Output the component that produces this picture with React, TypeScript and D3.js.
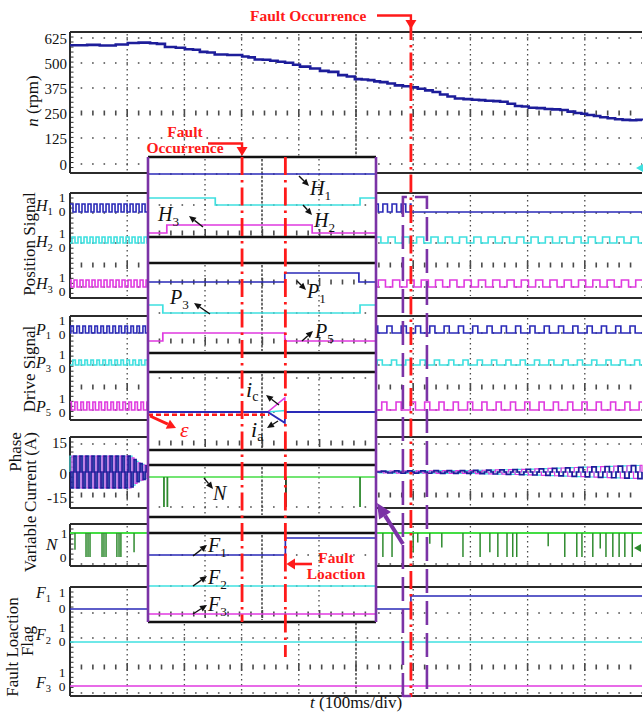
import React from "react";
import * as d3 from "d3";

// ---------------- data ----------------
// speed n (rpm) vs time (ms), main time base 0..1000 ms (100 ms/div)
const SPEED_T = [0, 30, 52, 80, 101, 120, 140, 152, 166, 185, 201, 215, 227, 240, 253, 275, 301, 312, 323, 337, 350, 363, 376, 390, 402, 420, 437, 452, 469, 484, 498, 510, 521, 532, 542, 555, 568, 582, 596, 608, 621, 634, 647, 660, 673, 688, 703, 715, 726, 740, 752, 765, 778, 790, 802, 816, 830, 843, 857, 870, 883, 894, 904, 916, 927, 940, 953, 966, 979, 990, 1000];
const SPEED_N = [589, 591, 588, 593, 600, 602, 599, 596, 580, 577, 569, 567, 556, 553, 543, 541, 533, 529, 518, 517, 512, 507, 502, 492, 483, 474, 462, 457, 441, 434, 421, 419, 416, 410, 406, 399, 390, 386, 380, 373, 365, 357, 345, 335, 325, 322, 319, 317, 314, 312, 309, 299, 288, 285, 279, 277, 273, 271, 268, 260, 253, 249, 243, 238, 232, 227, 222, 219, 217, 219, 216];
const N_TICKS = [625, 500, 375, 250, 125, 0];
const CURRENT_TICKS = [15, 0, -15];

const FAULT_T = 596; // fault occurrence, main time base
const BOX_T = [582, 624]; // purple dashed box
const INSET_OCC_T = 16.5; // inset time base 0..40 ms
const INSET_LOC_T = 24.1;

type Seg = { from: number; to: number; period: number; duty: number; phase: number };
const H1_WAVE: Seg[] = [
  { from: 0, to: 300, period: 10.5, duty: 0.5, phase: 0 },
  { from: 300, to: 596, period: 16, duty: 0.5, phase: 3 },
];
const H1_TAIL: [number, number][] = [[596, 0], [1000, 0]];
const H2_WAVE: Seg[] = [
  { from: 0, to: 300, period: 10.5, duty: 0.5, phase: 3.5 },
  { from: 300, to: 1000, period: 25, duty: 0.5, phase: 6 },
];
const H3_WAVE: Seg[] = [
  { from: 0, to: 300, period: 10.5, duty: 0.5, phase: 7 },
  { from: 300, to: 1000, period: 25, duty: 0.5, phase: 14 },
];
const P1_WAVE: Seg[] = [
  { from: 0, to: 300, period: 10.5, duty: 0.42, phase: 1.5 },
  { from: 300, to: 1000, period: 25, duty: 0.36, phase: 4 },
];
const P3_WAVE: Seg[] = [
  { from: 0, to: 300, period: 10.5, duty: 0.42, phase: 5 },
  { from: 300, to: 1000, period: 25, duty: 0.36, phase: 12 },
];
const P5_WAVE: Seg[] = [
  { from: 0, to: 300, period: 10.5, duty: 0.42, phase: 8.5 },
  { from: 300, to: 1000, period: 25, duty: 0.36, phase: 20 },
];
const F1_MAIN: [number, number][] = [[0, 0], [596, 1], [1000, 1]];
const F2_MAIN: [number, number][] = [[0, 0], [1000, 0]];
const F3_MAIN: [number, number][] = [[0, 0], [1000, 0]];

// phase currents (six-step), amplitude envelope
const CUR_LEFT = { from: 0, to: 136, period: 10.5 };
const CUR_RIGHT = { from: 535, to: 1000, period: 23 };
const CUR_ENV_T = [0, 105, 118, 136, 535, 700, 800, 900, 1000];
const CUR_ENV_A = [8.5, 8.5, 5, 3, 0.5, 0.8, 1.5, 2.6, 3.6];

// variable N dips (time, lowest value)
const N_DIP_T = [8.7, 28, 31.5, 35, 56, 59.4, 63, 82, 85.7, 89, 112,
  547, 563, 600, 608, 629, 650, 687, 717, 734, 748, 764, 774, 781, 836, 865, 886, 895, 914, 927, 937, 949, 960, 970, 983];
const N_DIP_V = [0.3, 0, 0, 0, 0, 0, 0, 0, 0, 0, 0.2,
  0, 0, 0.2, 0.6, 0.55, 0.4, 0, 0, 0.2, 0, 0, 0, 0, 0.45, 0, 0, 0, 0, 0.35, 0, 0, 0, 0, 0];

// zoomed inset (0..40 ms)
const IN_H1: [number, number][] = [[0, 0], [40, 0]];
const IN_H2: [number, number][] = [[0, 1], [11.8, 0], [37.2, 1], [40, 1]];
const IN_H3: [number, number][] = [[0, 0], [3.3, 1], [28.8, 0], [40, 0]];
const IN_P1: [number, number][] = [[0, 0], [24.0, 1], [37.0, 0], [40, 0]];
const IN_P3: [number, number][] = [[0, 1], [2.6, 0], [37.2, 1], [40, 1]];
const IN_P5: [number, number][] = [[0, 0], [2.6, 1], [24.0, 0], [40, 0]];
const IN_F1: [number, number][] = [[0, 0], [24.1, 1], [40, 1]];
const IN_F2: [number, number][] = [[0, 0], [40, 0]];
const IN_F3: [number, number][] = [[0, 0], [40, 0]];
const IN_IC: [number, number][] = [[0, 0], [21, 0], [24, 7.5], [24.05, 0], [40, 0]];
const IN_IA: [number, number][] = [[0, 0], [21, 0], [24, -5.8], [24.05, 0], [40, 0]];
const IN_IB: [number, number][] = [[0, 0], [21, 0], [24, 0.8], [24.05, 0], [40, 0]];
const IN_EPS: [number, number][] = [[0, -1.5], [21.3, -1.5]];
const IN_N_DIP_T = [2.8, 3.4, 24.2, 37.2];

// ---------------- style / layout ----------------
const BLUE = "#2a2ab8";
const NAVY = "#1d1d9a";
const CYAN = "#3fe0e0";
const MAGENTA = "#e03ae0";
const GREEN = "#44dd44";
const DKGREEN = "#2f8a2f";
const RED = "#ff1a1a";
const PURPLE = "#7b33a6";
const FRAME = "#2b2b2b";
const GRID = "#4a4a4a";
const SERIF = "Liberation Serif, DejaVu Serif, serif";

const X0 = 70, X1 = 642;
const xMain = d3.scaleLinear().domain([0, 1000]).range([X0, X1]);
const xIn = d3.scaleLinear().domain([0, 40]).range([148, 376]);
const STEP = (X1 - X0) / 50;

const PANELS = [
  { top: 32, bottom: 173, dots: [38, 63, 88, 138, 164], ticks: [113] },
  { top: 193, bottom: 298, dots: [213, 243, 287], ticks: [265] },
  { top: 316, bottom: 420, dots: [333, 365, 410], ticks: [387] },
  { top: 437, bottom: 508, dots: [444, 472], ticks: [495] },
  { top: 524, bottom: 566, dots: [564], ticks: [] as number[] },
  { top: 587, bottom: 696, dots: [613, 638, 693], ticks: [667] },
];
const IN_PANELS = [
  { top: 157, bottom: 237, dots: [174, 205], ticks: [233] },
  { top: 263, bottom: 353, dots: [313], ticks: [282, 341] },
  { top: 372, bottom: 450, dots: [378, 412], ticks: [443] },
  { top: 465, bottom: 517, dots: [507], ticks: [] as number[] },
  { top: 533, bottom: 622, dots: [555, 586], ticks: [614] },
];

function squarePoints(segs: Seg[]): [number, number][] {
  const pts: [number, number][] = [];
  for (const s of segs) {
    const lvl = (t: number) => {
      const r = (((t - s.phase) % s.period) + s.period) % s.period;
      return r < s.duty * s.period ? 1 : 0;
    };
    pts.push([s.from, lvl(s.from)]);
    const k0 = Math.floor((s.from - s.phase) / s.period);
    for (let k = k0; ; k++) {
      const rise = s.phase + k * s.period;
      if (rise >= s.to) break;
      const fall = rise + s.duty * s.period;
      if (rise > s.from) pts.push([rise, 1]);
      if (fall > s.from && fall < s.to) pts.push([fall, 0]);
    }
    pts.push([s.to, lvl(s.to - 1e-6)]);
  }
  return pts;
}

function sixStep(from: number, to: number, period: number, phase: number): [number, number][] {
  const amp = d3.scaleLinear().domain(CUR_ENV_T).range(CUR_ENV_A).clamp(true);
  const fr = [0, 1 / 3, 1 / 2, 5 / 6];
  const lv = [1, 0, -1, 0];
  const pts: [number, number][] = [[from, 0]];
  for (let k = Math.floor((from - phase) / period); ; k++) {
    const base = phase + k * period;
    if (base >= to) break;
    for (let i = 0; i < 4; i++) {
      const t = base + fr[i] * period;
      if (t >= from && t < to) pts.push([t, lv[i] * amp(t)]);
    }
  }
  pts.push([to, 0]);
  return pts;
}

function arrow(x1: number, y1: number, x2: number, y2: number, len: number, hw: number) {
  const dx = x2 - x1, dy = y2 - y1, L = Math.hypot(dx, dy);
  const ux = dx / L, uy = dy / L;
  const bx = x2 - ux * len, by = y2 - uy * len;
  const px = -uy, py = ux;
  return {
    line: `M${x1},${y1}L${bx},${by}`,
    head: `M${x2},${y2}L${bx + px * hw},${by + py * hw}L${bx - px * hw},${by - py * hw}Z`,
  };
}

function rowTicksPath(x0: number, x1: number, y: number) {
  let d = "";
  for (let k = 1; x0 + k * STEP < x1 - 1; k++) {
    const x = x0 + k * STEP;
    const h = k % 5 === 0 ? 4 : 2.5;
    d += `M${x},${y - h}V${y + h}`;
  }
  return d;
}

function Grid({ x0, x1, top, bottom, dots, ticks, divs }: any) {
  const els: any[] = [];
  dots.forEach((y: number, i: number) =>
    els.push(<line key={"d" + i} x1={x0} x2={x1} y1={y} y2={y} stroke={GRID} strokeWidth={1.6} strokeDasharray={`1.6 ${STEP - 1.6}`} strokeDashoffset={0.8} />)
  );
  ticks.forEach((y: number, i: number) =>
    els.push(<path key={"t" + i} d={rowTicksPath(x0, x1, y)} stroke={GRID} strokeWidth={1.6} />)
  );
  divs.forEach((x: number, i: number) => {
    const center = i === Math.floor(divs.length / 2);
    els.push(<line key={"v" + i} x1={x} x2={x} y1={top + 2} y2={bottom - 2} stroke={GRID}
      strokeWidth={center ? 1.6 : 1.3} strokeDasharray={center ? "2.6 1.6" : "1.4 3.6"} />);
  });
  return <g>{els}</g>;
}

function ChanLabel({ letter, sub, x, y, size, color = "#111" }: any) {
  return (
    <text x={x} y={y} fontSize={size} fill={color} style={{ fontFamily: SERIF }}>
      <tspan fontStyle="italic">{letter}</tspan>
      <tspan fontSize={size * 0.66} dy={size * 0.25}>{sub}</tspan>
    </text>
  );
}

export default function App() {
  const stepLine = (xs: any, ys: any) =>
    d3.line<[number, number]>().x(d => xs(d[0])).y(d => ys(d[1])).curve(d3.curveStepAfter);
  const linLine = (xs: any, ys: any) =>
    d3.line<[number, number]>().x(d => xs(d[0])).y(d => ys(d[1]));
  const dig = (y0: number, y1: number) => d3.scaleLinear().domain([0, 1]).range([y0, y1]);

  const yN = d3.scaleLinear().domain([0, 625]).range([164, 38]);
  const speedPts = SPEED_T.map((t, i) => [t, SPEED_N[i]] as [number, number]);
  const yCur = d3.scaleLinear().domain([-15, 15]).range([500, 444]);
  const yCurIn = d3.scaleLinear().domain([-15, 15]).range([440, 384]);

  const mainDivs = d3.range(1, 10).map(k => xMain(k * 100));
  const inDivs = [10, 20, 30].map(t => xIn(t));

  const mainDigital = [
    { pts: squarePoints(H1_WAVE).concat(H1_TAIL), y: dig(212, 204), c: BLUE },
    { pts: squarePoints(H2_WAVE), y: dig(243, 237), c: CYAN },
    { pts: squarePoints(H3_WAVE), y: dig(287, 280), c: MAGENTA },
    { pts: squarePoints(P1_WAVE), y: dig(333, 326), c: BLUE },
    { pts: squarePoints(P3_WAVE), y: dig(365, 360), c: CYAN },
    { pts: squarePoints(P5_WAVE), y: dig(410, 402), c: MAGENTA },
    { pts: F1_MAIN, y: dig(609, 596), c: BLUE },
    { pts: F2_MAIN, y: dig(642, 634), c: CYAN },
    { pts: F3_MAIN, y: dig(686, 678), c: MAGENTA },
  ];
  const yNvar = dig(557, 533);

  const curColors = [CYAN, MAGENTA, NAVY];
  const curPaths: any[] = [];
  [CUR_LEFT, CUR_RIGHT].forEach((seg, si) => {
    [0, 1, 2].forEach(ph => {
      const pts = sixStep(seg.from, seg.to, seg.period, (ph * seg.period) / 3);
      curPaths.push(
        <path key={`c${si}${ph}`} d={stepLine(xMain, yCur)(pts) || ""} fill="none" stroke={curColors[ph]} strokeWidth={ph === 2 ? 1.7 : 1.2} />
      );
    });
  });

  const inDigital = [
    { pts: IN_H1, y: dig(174, 166), c: BLUE },
    { pts: IN_H2, y: dig(205, 198), c: CYAN },
    { pts: IN_H3, y: dig(233, 225), c: MAGENTA },
    { pts: IN_P1, y: dig(282, 273), c: BLUE },
    { pts: IN_P3, y: dig(313, 305), c: CYAN },
    { pts: IN_P5, y: dig(341, 333), c: MAGENTA },
    { pts: IN_F1, y: dig(555, 538), c: BLUE },
    { pts: IN_F2, y: dig(586, 578), c: CYAN },
    { pts: IN_F3, y: dig(614, 606), c: MAGENTA },
  ];
  const yNin = dig(507, 477);

  const labelArrows = [
    [299, 176, 309, 186], [303, 205, 312, 215], [203, 227, 189, 216],
    [297, 281, 306, 290], [210, 314, 194, 303], [302, 341, 313, 331],
    [279, 405, 266, 395], [278, 421, 267, 428], [204, 478, 213, 489],
    [193, 556, 207, 545], [193, 586, 207, 576], [193, 614, 207, 605],
  ].map(a => arrow(a[0], a[1], a[2], a[3], 7, 3.2));

  const insetLabels = [
    { l: "H", s: "1", x: 310, y: 195 }, { l: "H", s: "2", x: 314, y: 227 }, { l: "H", s: "3", x: 158, y: 221 },
    { l: "P", s: "1", x: 307, y: 298 }, { l: "P", s: "3", x: 170, y: 304 }, { l: "P", s: "5", x: 315, y: 338 },
    { l: "N", s: "", x: 213, y: 500 },
    { l: "F", s: "1", x: 208, y: 552 }, { l: "F", s: "2", x: 208, y: 584 }, { l: "F", s: "3", x: 208, y: 611 },
  ];

  const mainLabels = [
    { l: "H", s: "1", y: 211, y1: 202, y0: 216 },
    { l: "H", s: "2", y: 247, y1: 238, y0: 252 },
    { l: "H", s: "3", y: 289, y1: 282, y0: 296 },
    { l: "P", s: "1", y: 335, y1: 325, y0: 339 },
    { l: "P", s: "3", y: 368, y1: 359, y0: 373 },
    { l: "P", s: "5", y: 412, y1: 403, y0: 417 },
    { l: "F", s: "1", y: 598, y1: 597, y0: 613 },
    { l: "F", s: "2", y: 640, y1: 632, y0: 646 },
    { l: "F", s: "3", y: 688, y1: 677, y0: 691 },
  ];

  const purpleArrow = arrow(403, 544, 377, 503, 15, 7);
  const epsArrow = arrow(150, 416, 176, 428, 9, 5);
  const xFault = xMain(FAULT_T);
  const xOcc = xIn(INSET_OCC_T);
  const xLoc = xIn(INSET_LOC_T);

  const rotText = (txt: any, cx: number, cy: number, size = 17, key?: string) => (
    <text key={key} transform={`translate(${cx + size * 0.35},${cy}) rotate(-90)`} textAnchor="middle"
      fontSize={size} fill="#111">{txt}</text>
  );

  return (
    <svg width={643} height={713} style={{ position: "absolute", left: 0, top: 0, background: "#fff", fontFamily: SERIF }}>
      <rect x={0} y={0} width={643} height={713} fill="#fff" />

      {/* main panels grid + frames */}
      {PANELS.map((p, i) => (
        <g key={"p" + i}>
          <Grid x0={X0} x1={X1} top={p.top} bottom={p.bottom} dots={p.dots} ticks={p.ticks} divs={mainDivs} />
          <path d={d3.range(p.top + 5, p.bottom - 2, 5.02).map(y => `M${X0},${y}h3.5`).join("")} stroke={FRAME} strokeWidth={1} />
          <path d={`M${X0},${p.top}H${X1}M${X0},${p.bottom}H${X1}M${X0},${p.top}V${p.bottom}`} stroke={FRAME} strokeWidth={2} fill="none" />
        </g>
      ))}

      {/* speed */}
      <path d={stepLine(xMain, yN)(speedPts) || ""} fill="none" stroke={NAVY} strokeWidth={2.6} />

      {/* digital channels */}
      {mainDigital.map((c, i) => (
        <path key={"md" + i} d={stepLine(xMain, c.y)(c.pts) || ""} fill="none" stroke={c.c} strokeWidth={1.6} />
      ))}

      {/* currents */}
      {curPaths}

      {/* variable N */}
      <line x1={X0} x2={X1} y1={yNvar(1)} y2={yNvar(1)} stroke={GREEN} strokeWidth={1.8} />
      {N_DIP_T.map((t, i) => (
        <line key={"nd" + i} x1={xMain(t)} x2={xMain(t)} y1={yNvar(1)} y2={yNvar(N_DIP_V[i])} stroke={DKGREEN} strokeWidth={1.5} />
      ))}

      {/* channel markers on right edge */}
      <path d="M636,168L643,164L643,172Z" fill={CYAN} />
      <path d="M634,548L641,544L641,552Z" fill={DKGREEN} />

      {/* ---------- inset ---------- */}
      <rect x={148} y={157} width={228} height={465} fill="#fff" />
      {IN_PANELS.map((p, i) => (
        <g key={"ip" + i}>
          <Grid x0={148} x1={376} top={p.top} bottom={p.bottom} dots={p.dots} ticks={p.ticks} divs={inDivs} />
          <path d={`M148,${p.top}H376M148,${p.bottom}H376`} stroke="#111" strokeWidth={2.6} />
        </g>
      ))}
      {inDigital.map((c, i) => (
        <path key={"id" + i} d={stepLine(xIn, c.y)(c.pts) || ""} fill="none" stroke={c.c} strokeWidth={1.7} />
      ))}
      <path d={linLine(xIn, yCurIn)(IN_EPS) || ""} fill="none" stroke={RED} strokeWidth={2.6} strokeDasharray="5 3" />
      <path d={linLine(xIn, yCurIn)(IN_IB) || ""} fill="none" stroke={CYAN} strokeWidth={1.6} />
      <path d={linLine(xIn, yCurIn)(IN_IC) || ""} fill="none" stroke={MAGENTA} strokeWidth={1.6} />
      <path d={linLine(xIn, yCurIn)(IN_IA) || ""} fill="none" stroke={BLUE} strokeWidth={1.8} />
      <line x1={148} x2={376} y1={yNin(1)} y2={yNin(1)} stroke={GREEN} strokeWidth={1.6} />
      {IN_N_DIP_T.map((t, i) => (
        <line key={"ind" + i} x1={xIn(t)} x2={xIn(t)} y1={yNin(1)} y2={yNin(0)} stroke={i === 2 ? "#1d3d1d" : DKGREEN} strokeWidth={1.8} />
      ))}
      {/* inset borders */}
      <path d="M148,157V622M376,157V622" stroke={PURPLE} strokeWidth={2.6} />

      {/* red fault lines */}
      <line x1={xFault} x2={xFault} y1={22} y2={697} stroke={RED} strokeWidth={2.8} strokeDasharray="18 5 2.5 5" />
      <line x1={xOcc} x2={xOcc} y1={157} y2={622} stroke={RED} strokeWidth={2.8} strokeDasharray="18 5 2.5 5" />
      <line x1={xLoc} x2={xLoc} y1={157} y2={657} stroke={RED} strokeWidth={2.8} strokeDasharray="18 5 2.5 5" />

      {/* purple dashed box */}
      <path d={`M${xMain(BOX_T[0])},697V197H${xMain(BOX_T[1])}V697`} fill="none" stroke={PURPLE} strokeWidth={2.6} strokeDasharray="24 8" />
      <path d={`M${xMain(BOX_T[0])},696H${xFault}`} stroke={PURPLE} strokeWidth={2.4} />
      <path d={purpleArrow.line} stroke={PURPLE} strokeWidth={4} />
      <path d={purpleArrow.head} fill={PURPLE} />

      {/* label arrows */}
      {labelArrows.map((a, i) => (
        <g key={"la" + i}>
          <path d={a.line} stroke="#111" strokeWidth={1.4} />
          <path d={a.head} fill="#111" />
        </g>
      ))}
      {insetLabels.map((l, i) => (
        <ChanLabel key={"il" + i} letter={l.l} sub={l.s} x={l.x} y={l.y} size={20} />
      ))}
      <text x={246} y={397} fontSize={22} fill="#111">
        <tspan fontStyle="italic">i</tspan><tspan fontSize={14} dy={4}>c</tspan>
      </text>
      <text x={251} y={437} fontSize={22} fill="#111">
        <tspan fontStyle="italic">i</tspan><tspan fontSize={14} dy={4}>a</tspan>
      </text>
      <path d={epsArrow.line} stroke={RED} strokeWidth={3} />
      <path d={epsArrow.head} fill={RED} />
      <text x={180} y={437} fontSize={22} fontStyle="italic" fill={RED}>ε</text>

      {/* red annotations */}
      <text x={250} y={21} fontSize={15.5} fontWeight="bold" fill={RED}>Fault Occurrence</text>
      <path d={`M377,15.5H${xFault}V21`} fill="none" stroke={RED} strokeWidth={2.4} />
      <path d={`M${xFault - 5.5},20L${xFault + 5.5},20L${xFault},29Z`} fill={RED} />

      <text x={185} y={137} textAnchor="middle" fontSize={15.5} fontWeight="bold" fill={RED}>Fault</text>
      <text x={185} y={153} textAnchor="middle" fontSize={15.5} fontWeight="bold" fill={RED}>Occurrence</text>
      <path d={`M208,143.5H${xOcc}V148`} fill="none" stroke={RED} strokeWidth={2.4} />
      <path d={`M${xOcc - 5.5},147L${xOcc + 5.5},147L${xOcc},156Z`} fill={RED} />

      <text x={336} y={563} textAnchor="middle" fontSize={15.5} fontWeight="bold" fill={RED}>Fault</text>
      <text x={336} y={579} textAnchor="middle" fontSize={15.5} fontWeight="bold" fill={RED}>Loaction</text>
      <path d="M312,564H294" stroke={RED} strokeWidth={2.6} />
      <path d={`M295,558.5L295,569.5L${xLoc + 1},564Z`} fill={RED} />

      {/* left tick labels */}
      {N_TICKS.map(v => (
        <text key={"nt" + v} x={67} y={yN(v) + 5.5} textAnchor="end" fontSize={15} fill="#111">{v}</text>
      ))}
      {CURRENT_TICKS.map(v => (
        <text key={"ct" + v} x={67} y={yCur(v) + (v === 15 ? 4 : v === 0 ? 7 : 3)} textAnchor="end" fontSize={15} fill="#111">{v}</text>
      ))}
      {mainLabels.map((l, i) => (
        <g key={"ml" + i}>
          <ChanLabel letter={l.l} sub={l.s} x={36} y={l.y} size={16} />
          <text x={62} y={l.y1} textAnchor="middle" fontSize={13.5} fill="#111">1</text>
          <text x={62} y={l.y0} textAnchor="middle" fontSize={13.5} fill="#111">0</text>
        </g>
      ))}
      <text x={46} y={550} fontSize={17} fontStyle="italic" fill="#111">N</text>
      <text x={64} y={538} textAnchor="middle" fontSize={13.5} fill="#111">1</text>
      <text x={63} y={562} textAnchor="middle" fontSize={13.5} fill="#111">0</text>

      {/* axis titles */}
      <text transform={`translate(${32 + 6},101) rotate(-90)`} textAnchor="middle" fontSize={17} fill="#111">
        <tspan fontStyle="italic">n</tspan> (rpm)
      </text>
      {rotText("Position Signal", 29, 244, 17, "ps")}
      {rotText("Drive Signal", 29, 369, 17, "ds")}
      {rotText("Phase", 15, 452, 17, "ph")}
      {rotText("Current (A)", 30, 472, 17, "cu")}
      {rotText("Variable", 30, 544, 17, "va")}
      {rotText("Fault Loaction", 12, 647, 17, "fl")}
      {rotText("Flag", 27, 641, 17, "fg")}

      <text x={310} y={708} fontSize={17} fill="#111">
        <tspan fontStyle="italic">t</tspan> (100ms/div)
      </text>
    </svg>
  );
}
